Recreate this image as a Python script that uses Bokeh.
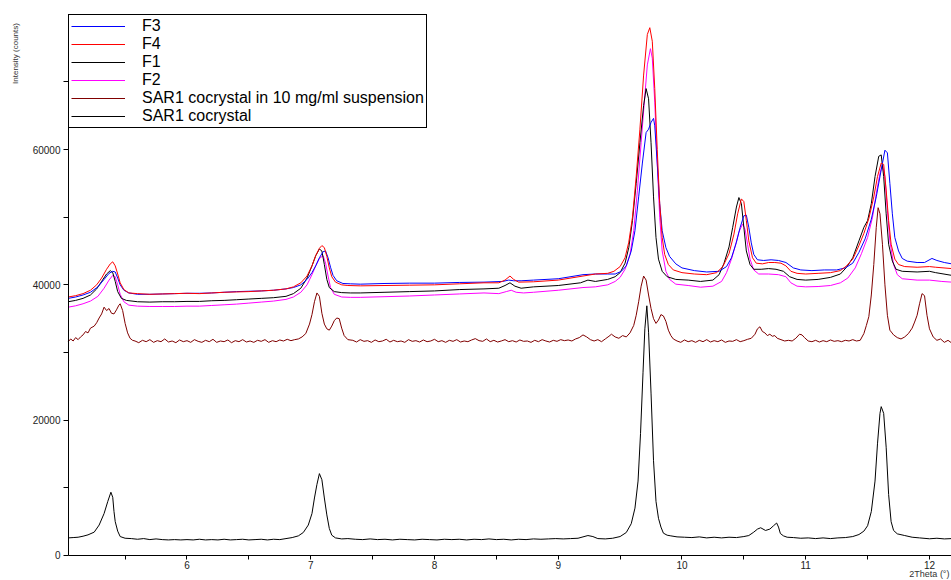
import numpy as np
from bokeh.plotting import figure
from bokeh.models import Range1d, FixedTicker, Label, Legend, LegendItem
from bokeh.embed import file_html
from bokeh.resources import INLINE

# ---------------- data (2Theta, counts) ----------------
f3_pts = [
    (5.04, 38000), (5.10, 38200), (5.16, 38500), (5.22, 38900), (5.28, 39700), (5.33, 40800),
    (5.37, 41700), (5.40, 42000), (5.42, 41900), (5.44, 41000), (5.46, 40000), (5.49, 39200),
    (5.53, 38800), (5.60, 38600), (5.70, 38600), (5.80, 38650), (5.90, 38700), (6.00, 38750),
    (6.10, 38750), (6.20, 38800), (6.30, 38900), (6.40, 39000), (6.50, 39050), (6.60, 39100),
    (6.70, 39200), (6.80, 39400), (6.86, 39600), (6.92, 40000), (6.97, 40800), (7.01, 41800),
    (7.04, 42800), (7.07, 44000), (7.10, 44900), (7.12, 45000), (7.14, 44000), (7.16, 42600),
    (7.18, 41400), (7.21, 40600), (7.26, 40200), (7.32, 40150), (7.40, 40100), (7.60, 40200),
    (7.80, 40250), (8.00, 40250), (8.20, 40350), (8.40, 40400), (8.55, 40500), (8.60, 40700),
    (8.64, 40600), (8.70, 40600), (8.80, 40700), (9.00, 40900), (9.20, 41500), (9.30, 41600),
    (9.40, 41600), (9.46, 41600), (9.51, 42000), (9.55, 42800), (9.59, 45000), (9.62, 48000),
    (9.65, 53000), (9.68, 58000), (9.71, 62500), (9.73, 63000), (9.75, 64000), (9.77, 64600),
    (9.78, 63500), (9.80, 58000), (9.82, 52000), (9.84, 48000), (9.87, 45500), (9.90, 44200),
    (9.95, 43100), (10.00, 42500), (10.10, 42100), (10.20, 41900), (10.30, 42000), (10.36, 42700),
    (10.40, 44000), (10.44, 46300), (10.47, 48500), (10.50, 50200), (10.52, 50300), (10.54, 48500),
    (10.56, 46200), (10.58, 44500), (10.61, 43700), (10.66, 43600), (10.72, 43700), (10.78, 43600),
    (10.84, 43300), (10.90, 42500), (10.96, 42200), (11.05, 42100), (11.15, 42200), (11.25, 42200),
    (11.32, 42500), (11.38, 43200), (11.43, 44800), (11.48, 46800), (11.53, 49700), (11.57, 53000),
    (11.61, 57000), (11.64, 59900), (11.66, 59500), (11.68, 55000), (11.70, 50500), (11.72, 47000),
    (11.75, 45000), (11.78, 43900), (11.82, 43500), (11.90, 43300), (11.96, 43300), (12.02, 43900),
    (12.06, 43600), (12.12, 43300), (12.18, 43100),
]

f4_pts = [
    (5.04, 38200), (5.10, 38400), (5.16, 38700), (5.22, 39200), (5.27, 40000), (5.31, 41000),
    (5.35, 42300), (5.38, 43100), (5.40, 43400), (5.42, 42800), (5.44, 41600), (5.46, 40300),
    (5.49, 39300), (5.53, 38800), (5.60, 38700), (5.70, 38600), (5.80, 38650), (5.90, 38700),
    (6.00, 38750), (6.10, 38700), (6.20, 38800), (6.30, 38900), (6.40, 38950), (6.50, 39000),
    (6.60, 39100), (6.70, 39200), (6.80, 39400), (6.86, 39700), (6.92, 40300), (6.97, 41300),
    (7.01, 42800), (7.04, 44300), (7.07, 45400), (7.09, 45800), (7.11, 45500), (7.13, 44200),
    (7.15, 42500), (7.17, 41200), (7.20, 40400), (7.25, 40000), (7.30, 39900), (7.40, 39850),
    (7.60, 39900), (7.80, 39950), (8.00, 40000), (8.20, 40150), (8.40, 40300), (8.52, 40300),
    (8.57, 40700), (8.61, 41300), (8.64, 40800), (8.68, 40400), (8.80, 40450), (9.00, 40700),
    (9.20, 41300), (9.30, 41600), (9.40, 41700), (9.45, 42000), (9.50, 42700), (9.54, 44000),
    (9.57, 46300), (9.60, 50000), (9.63, 56000), (9.66, 63000), (9.69, 71000), (9.72, 77000),
    (9.74, 78000), (9.76, 76000), (9.78, 69000), (9.80, 60000), (9.82, 52000), (9.84, 47000),
    (9.86, 44500), (9.89, 43000), (9.93, 42200), (10.00, 41800), (10.10, 41600), (10.20, 41500),
    (10.28, 41800), (10.33, 42700), (10.38, 44600), (10.42, 47500), (10.45, 50500), (10.48, 52700),
    (10.50, 52300), (10.52, 49500), (10.54, 46500), (10.57, 44000), (10.60, 43200), (10.65, 43100),
    (10.70, 43300), (10.75, 43300), (10.80, 43200), (10.84, 42800), (10.88, 42000), (10.93, 41700),
    (11.00, 41600), (11.10, 41700), (11.20, 41800), (11.28, 42100), (11.33, 42800), (11.38, 43800),
    (11.43, 45800), (11.47, 47600), (11.51, 49800), (11.55, 53000), (11.58, 56000), (11.61, 58000),
    (11.63, 57800), (11.65, 54000), (11.67, 49500), (11.69, 46000), (11.72, 43800), (11.75, 43000),
    (11.80, 42700), (11.90, 42600), (12.00, 42700), (12.05, 42600), (12.18, 42400),
]

f1_pts = [
    (5.04, 37500), (5.10, 37700), (5.16, 38000), (5.22, 38500), (5.27, 39400), (5.31, 40500),
    (5.35, 41600), (5.38, 42100), (5.40, 41800), (5.42, 40500), (5.44, 39000), (5.47, 38000),
    (5.51, 37700), (5.60, 37500), (5.70, 37450), (5.80, 37500), (5.90, 37500), (6.00, 37550),
    (6.10, 37550), (6.20, 37650), (6.30, 37700), (6.40, 37800), (6.50, 37900), (6.60, 38000),
    (6.70, 38100), (6.80, 38300), (6.86, 38700), (6.92, 39500), (6.97, 41000), (7.01, 42800),
    (7.04, 44300), (7.07, 45300), (7.09, 45000), (7.11, 43000), (7.13, 40800), (7.15, 39600),
    (7.19, 39000), (7.25, 38850), (7.32, 38800), (7.40, 38800), (7.60, 38900), (7.80, 39000),
    (8.00, 39100), (8.20, 39300), (8.40, 39400), (8.52, 39500), (8.57, 39900), (8.61, 40300),
    (8.65, 39800), (8.70, 39500), (8.80, 39700), (9.00, 39900), (9.18, 40300), (9.24, 40700),
    (9.30, 40500), (9.40, 40800), (9.46, 41200), (9.50, 41800), (9.54, 43200), (9.57, 45500),
    (9.60, 49500), (9.63, 55000), (9.66, 61000), (9.69, 66500), (9.71, 69000), (9.73, 67500),
    (9.75, 61000), (9.77, 53000), (9.79, 47000), (9.81, 43800), (9.84, 42000), (9.88, 41200),
    (9.95, 40800), (10.05, 40700), (10.15, 40500), (10.25, 40700), (10.30, 41500), (10.34, 43200),
    (10.38, 45600), (10.41, 48500), (10.44, 51500), (10.46, 52900), (10.48, 52000), (10.50, 48500),
    (10.52, 45000), (10.55, 43000), (10.58, 42300), (10.64, 42300), (10.70, 42400), (10.76, 42300),
    (10.82, 42000), (10.87, 41200), (10.93, 40800), (11.00, 40700), (11.10, 40800), (11.20, 41100),
    (11.28, 41600), (11.33, 42600), (11.38, 44000), (11.43, 46500), (11.47, 48500), (11.50, 49500),
    (11.53, 52000), (11.56, 56000), (11.59, 59000), (11.61, 59200), (11.63, 56000), (11.65, 50500),
    (11.67, 46000), (11.70, 43500), (11.73, 42300), (11.78, 42000), (11.90, 41900), (12.00, 42000),
    (12.05, 41800), (12.18, 41400),
]

f2_pts = [
    (5.04, 36700), (5.10, 36900), (5.16, 37200), (5.22, 37600), (5.28, 38300), (5.33, 39500),
    (5.37, 40700), (5.40, 41400), (5.42, 41200), (5.44, 40000), (5.46, 38600), (5.49, 37500),
    (5.53, 37000), (5.60, 36850), (5.70, 36800), (5.80, 36800), (5.90, 36800), (6.00, 36850),
    (6.10, 36850), (6.20, 36950), (6.30, 37050), (6.40, 37150), (6.50, 37300), (6.60, 37450),
    (6.70, 37600), (6.80, 37850), (6.86, 38200), (6.92, 38900), (6.97, 40000), (7.01, 41500),
    (7.04, 42800), (7.07, 43900), (7.10, 44300), (7.12, 43200), (7.14, 41300), (7.16, 39600),
    (7.19, 38600), (7.25, 38200), (7.32, 38150), (7.40, 38150), (7.60, 38250), (7.80, 38350),
    (8.00, 38500), (8.20, 38650), (8.40, 38800), (8.52, 38700), (8.58, 39000), (8.62, 39200),
    (8.66, 38900), (8.72, 38800), (8.80, 38900), (9.00, 39200), (9.20, 39600), (9.30, 39700),
    (9.40, 40000), (9.46, 40500), (9.50, 41100), (9.54, 42300), (9.58, 44500), (9.61, 48000),
    (9.64, 54000), (9.67, 61000), (9.70, 68000), (9.72, 72500), (9.745, 74900), (9.76, 73500),
    (9.78, 67000), (9.80, 58000), (9.82, 50000), (9.84, 45000), (9.87, 42000), (9.90, 40800),
    (9.95, 40100), (10.05, 39900), (10.15, 39650), (10.25, 39800), (10.32, 40500), (10.36, 41800),
    (10.40, 43800), (10.43, 45700), (10.46, 47800), (10.49, 49000), (10.51, 48200), (10.53, 46000),
    (10.55, 43800), (10.58, 42200), (10.62, 41600), (10.70, 41600), (10.78, 41500), (10.84, 41200),
    (10.88, 40300), (10.93, 39800), (11.00, 39700), (11.10, 39750), (11.20, 39900), (11.28, 40300),
    (11.34, 41000), (11.40, 42500), (11.45, 44600), (11.50, 47000), (11.54, 50000), (11.57, 53500),
    (11.60, 56500), (11.62, 57700), (11.64, 56000), (11.66, 51000), (11.68, 46500), (11.71, 43000),
    (11.74, 41500), (11.78, 40900), (11.90, 40700), (12.00, 40700), (12.10, 40500), (12.18, 40400),
]

susp_pts = [
    (5.04, 31600), (5.06, 32000), (5.08, 31700), (5.10, 32200), (5.12, 31900), (5.14, 32300),
    (5.16, 32600), (5.18, 33100), (5.20, 32900), (5.22, 33600), (5.25, 33900), (5.27, 34400),
    (5.29, 35100), (5.31, 35700), (5.33, 36700), (5.35, 36200), (5.37, 36500), (5.39, 35800),
    (5.41, 35700), (5.43, 36300), (5.45, 37000), (5.46, 37200), (5.48, 36200), (5.50, 34300),
    (5.52, 32900), (5.54, 32100), (5.56, 31800),
    (5.58, 31700), (5.61, 31450), (5.64, 31800), (5.67, 31600), (5.70, 31900), (5.73, 31500),
    (5.76, 31750), (5.79, 31600), (5.82, 32000), (5.85, 31550), (5.88, 31700), (5.91, 31450),
    (5.94, 31850), (5.97, 31600), (6.00, 31750), (6.03, 31500), (6.06, 31900), (6.09, 31650),
    (6.12, 31500), (6.15, 31800), (6.18, 31600), (6.21, 31950), (6.24, 31500), (6.27, 31700),
    (6.30, 31600), (6.33, 31850), (6.36, 31450), (6.39, 31750), (6.42, 31600), (6.45, 31900),
    (6.48, 31550), (6.51, 31700), (6.54, 31500), (6.57, 31800), (6.60, 31650), (6.63, 31900),
    (6.66, 31500), (6.69, 31750), (6.72, 31600), (6.75, 31850), (6.78, 31700), (6.81, 31950),
    (6.84, 31750), (6.87, 31900), (6.90, 32000),
    (6.93, 32300), (6.96, 32800), (6.99, 34200), (7.01, 35600), (7.03, 37500), (7.05, 38800),
    (7.07, 38300), (7.09, 35800), (7.11, 34200), (7.13, 33500), (7.15, 33300), (7.17, 33900),
    (7.19, 34700), (7.21, 35100), (7.23, 35000), (7.25, 33600), (7.27, 32500), (7.30, 31900),
    (7.34, 31800), (7.37, 31550), (7.40, 31900), (7.43, 31650), (7.46, 31750), (7.49, 31500),
    (7.52, 31850), (7.55, 31600), (7.58, 31700), (7.61, 31950), (7.64, 31550), (7.67, 31800),
    (7.70, 31600), (7.73, 31700), (7.76, 31500), (7.79, 31900), (7.82, 31650), (7.85, 31750),
    (7.88, 31550), (7.91, 31850), (7.94, 31600), (7.97, 31700), (8.00, 31950), (8.03, 31600),
    (8.06, 31750), (8.09, 31500), (8.12, 31800), (8.15, 31650), (8.18, 31900), (8.21, 31550),
    (8.24, 31700), (8.27, 31600), (8.30, 31850), (8.33, 32050), (8.36, 31750), (8.39, 31650),
    (8.42, 32000), (8.45, 31600), (8.48, 31800), (8.51, 31550), (8.54, 31700), (8.57, 31900),
    (8.60, 31600), (8.63, 31750), (8.66, 31550), (8.69, 31850), (8.72, 31650), (8.75, 31700),
    (8.78, 31500), (8.81, 31800), (8.84, 31600), (8.87, 31900), (8.90, 31700), (8.93, 31550),
    (8.96, 31800), (8.99, 31650), (9.02, 31900), (9.05, 31750), (9.08, 31850), (9.11, 31700),
    (9.14, 32000), (9.17, 32200),
    (9.20, 32600), (9.23, 32300), (9.26, 31900), (9.29, 31700), (9.32, 31900), (9.35, 31600),
    (9.38, 32000), (9.41, 32400), (9.43, 32700), (9.46, 32300), (9.49, 32100), (9.52, 32500),
    (9.55, 32300), (9.58, 32900), (9.61, 34000), (9.63, 35500), (9.65, 37500), (9.67, 39800),
    (9.69, 41300), (9.71, 40700), (9.73, 38500), (9.75, 36500), (9.77, 35000), (9.79, 34300),
    (9.81, 34800), (9.83, 35600), (9.85, 35400), (9.87, 34600), (9.89, 33300), (9.91, 32500),
    (9.93, 32000),
    (9.96, 31700), (9.99, 31500), (10.02, 31850), (10.05, 31600), (10.08, 31750), (10.11, 31500),
    (10.14, 31800), (10.17, 31600), (10.20, 31900), (10.23, 31550), (10.26, 31750), (10.29, 31600),
    (10.32, 31850), (10.35, 31500), (10.38, 31700), (10.41, 31650), (10.44, 31900), (10.47, 31600),
    (10.50, 31750), (10.53, 31950), (10.56, 32100),
    (10.59, 32700), (10.61, 33500), (10.63, 33800), (10.65, 33100), (10.67, 32900), (10.69, 32500),
    (10.71, 32700), (10.73, 32400), (10.75, 32500), (10.77, 32100), (10.80, 31900), (10.83, 31700),
    (10.86, 31800), (10.89, 31700), (10.92, 32100), (10.95, 32700), (10.97, 32600), (10.99, 32200),
    (11.02, 31700), (11.05, 31600), (11.08, 31800), (11.11, 31550), (11.14, 31750), (11.17, 31600),
    (11.20, 31850), (11.23, 31650), (11.26, 31750), (11.29, 31600), (11.32, 31800), (11.35, 31700),
    (11.38, 31900), (11.41, 31700), (11.44, 31800),
    (11.47, 32800), (11.49, 34000), (11.51, 35300), (11.53, 38500), (11.55, 43000), (11.57, 48500),
    (11.585, 51400), (11.60, 50500), (11.62, 46000), (11.64, 40000), (11.66, 35500), (11.68, 33300),
    (11.71, 32600), (11.74, 32200), (11.77, 32000), (11.80, 32300), (11.83, 32800), (11.86, 33600),
    (11.88, 34500), (11.90, 35500), (11.92, 37200), (11.94, 38700), (11.96, 38400), (11.98, 35500),
    (12.00, 33500), (12.03, 32300), (12.06, 31800), (12.09, 32000), (12.12, 31500), (12.15, 31800),
    (12.18, 31400),
]

cocrystal_pts = [
    (5.04, 2600), (5.08, 2650), (5.12, 2700), (5.16, 2850), (5.20, 3050), (5.25, 3450),
    (5.29, 4500), (5.33, 6200), (5.36, 8000), (5.385, 9350), (5.40, 8600), (5.41, 6500),
    (5.42, 5000), (5.44, 3600), (5.46, 2800), (5.50, 2550), (5.55, 2500), (5.60, 2400),
    (5.65, 2500), (5.70, 2350), (5.75, 2450), (5.80, 2350), (5.85, 2300), (5.90, 2350),
    (5.95, 2300), (6.00, 2350), (6.05, 2300), (6.10, 2400), (6.15, 2300), (6.20, 2350),
    (6.25, 2300), (6.30, 2400), (6.35, 2300), (6.40, 2350), (6.45, 2400), (6.50, 2300),
    (6.55, 2350), (6.60, 2400), (6.65, 2300), (6.70, 2400), (6.75, 2350), (6.80, 2500),
    (6.85, 2650), (6.90, 2900), (6.94, 3400), (6.98, 4500), (7.01, 6200), (7.03, 8500),
    (7.05, 10500), (7.07, 12100), (7.09, 11200), (7.11, 8500), (7.13, 6000), (7.15, 4000),
    (7.17, 3000), (7.20, 2600), (7.25, 2450), (7.30, 2500), (7.36, 2400), (7.42, 2350),
    (7.48, 2450), (7.54, 2350), (7.60, 2400), (7.66, 2300), (7.72, 2400), (7.78, 2350),
    (7.84, 2300), (7.90, 2400), (7.96, 2350), (8.02, 2300), (8.08, 2400), (8.14, 2350),
    (8.20, 2400), (8.26, 2300), (8.32, 2400), (8.38, 2350), (8.44, 2450), (8.50, 2350),
    (8.56, 2400), (8.62, 2300), (8.68, 2400), (8.74, 2350), (8.80, 2450), (8.86, 2400),
    (8.92, 2450), (8.98, 2500), (9.04, 2450), (9.10, 2500), (9.16, 2550), (9.20, 2750),
    (9.24, 2950), (9.28, 2800), (9.32, 2500), (9.38, 2450), (9.44, 2550), (9.50, 2800),
    (9.55, 3400), (9.59, 4700), (9.62, 7000), (9.645, 11000), (9.665, 18000), (9.685, 27000),
    (9.70, 33500), (9.716, 36900), (9.73, 33000), (9.75, 24000), (9.77, 14000), (9.79, 8000),
    (9.81, 5500), (9.83, 4200), (9.85, 3300), (9.88, 3000), (9.91, 2900), (9.96, 2750),
    (10.02, 2700), (10.08, 2650), (10.14, 2750), (10.20, 2600), (10.26, 2700), (10.32, 2600),
    (10.38, 2700), (10.44, 2650), (10.50, 2800), (10.54, 2950), (10.58, 3450), (10.61, 3900),
    (10.636, 4100), (10.675, 3700), (10.71, 3900), (10.74, 4400), (10.765, 4800), (10.78, 4200),
    (10.795, 3250), (10.82, 2900), (10.85, 2700), (10.90, 2650), (10.96, 2550), (11.02, 2600),
    (11.08, 2500), (11.14, 2600), (11.20, 2500), (11.26, 2600), (11.32, 2650), (11.38, 2800),
    (11.43, 3100), (11.47, 3600), (11.50, 4400), (11.53, 6500), (11.56, 11000), (11.58, 16500),
    (11.60, 21000), (11.61, 22000), (11.63, 21000), (11.65, 16000), (11.67, 9000), (11.69, 5000),
    (11.71, 3700), (11.74, 3200), (11.80, 2950), (11.86, 2700), (11.92, 2600), (12.00, 2470),
    (12.06, 2550), (12.12, 2450), (12.18, 2500),
]

series_names = ["F3", "F4", "F1", "F2", "SAR1 cocrystal in 10 mg/ml suspension", "SAR1 cocrystal"]
series_colors = ["#0000FF", "#FF0000", "#000000", "#FF00FF", "#800000", "#000000"]
series_points = [f3_pts, f4_pts, f1_pts, f2_pts, susp_pts, cocrystal_pts]

x_ticks = [6, 7, 8, 9, 10, 11, 12]
x_minor = [5.5, 6.5, 7.5, 8.5, 9.5, 10.5, 11.5]
y_ticks = [0, 20000, 40000, 60000]
y_minor = [10000, 30000, 50000, 70000]

x_lo, x_hi = 5.0424, 12.178      # visible 2Theta span of the axis
y_lo, y_hi = 0, 79655            # visible intensity span of the axis

# ---------------- figure: frame covers the whole canvas, axes at fixed locations ----------------
p = figure(width=951, height=580,
           x_range=Range1d(4.4929, 12.178), y_range=Range1d(-3695, 82020),
           output_backend="svg", toolbar_location=None, min_border=0)
p.min_border_left = 0
p.min_border_right = 0
p.min_border_top = 0
p.min_border_bottom = 0
p.outline_line_color = None
p.grid.visible = False
p.background_fill_color = "white"
p.border_fill_color = "white"

draw_order = [5, 4, 3, 2, 0, 1]
rmap = {}
for i in draw_order:
    pts = series_points[i]
    xs = [a for a, b in pts]
    ys = [b for a, b in pts]
    rmap[i] = p.line(xs, ys, line_color=series_colors[i], line_width=1)

for ax in (p.xaxis[0], p.yaxis[0]):
    ax.axis_line_color = "black"
    ax.axis_line_width = 1
    ax.major_tick_line_color = "black"
    ax.minor_tick_line_color = "black"
    ax.major_tick_in = 0
    ax.minor_tick_in = 0
    ax.major_label_text_font = "Liberation Sans"
    ax.major_label_text_font_size = "10px"
    ax.major_label_text_color = "#222222"

p.xaxis.fixed_location = y_lo
p.xaxis.bounds = (x_lo, x_hi)
p.xaxis.ticker = FixedTicker(ticks=x_ticks, minor_ticks=x_minor)
p.xaxis.major_tick_out = 4
p.xaxis.minor_tick_out = 4
p.xaxis.major_label_standoff = 2

p.yaxis.fixed_location = x_lo
p.yaxis.bounds = (y_lo, y_hi)
p.yaxis.ticker = FixedTicker(ticks=y_ticks, minor_ticks=y_minor)
p.yaxis.major_tick_out = 5
p.yaxis.minor_tick_out = 5
p.yaxis.major_label_standoff = 3

legend = Legend(items=[LegendItem(label=series_names[i], renderers=[rmap[i]]) for i in range(6)],
                location=(68, 452), margin=0, padding=2, spacing=0,
                label_height=18, glyph_height=18, glyph_width=54, label_standoff=17,
                label_text_font="Liberation Sans", label_text_font_size="16px",
                label_text_color="black",
                border_line_color="black", border_line_width=1, border_line_alpha=1,
                background_fill_color="white", background_fill_alpha=1)
p.add_layout(legend)

# axis titles
p.add_layout(Label(x=4.6141, y=74186, text="Intensity (counts)", angle=np.pi / 2,
                   text_align="center", text_baseline="middle",
                   text_font="Liberation Sans", text_font_size="8px", text_color="#333333"))
p.add_layout(Label(x=12.1616, y=-3547, text="2Theta (°)",
                   text_align="right", text_baseline="bottom",
                   text_font="Liberation Sans", text_font_size="9px", text_color="#333333"))

open("out.html", "w").write(file_html(p, INLINE))
